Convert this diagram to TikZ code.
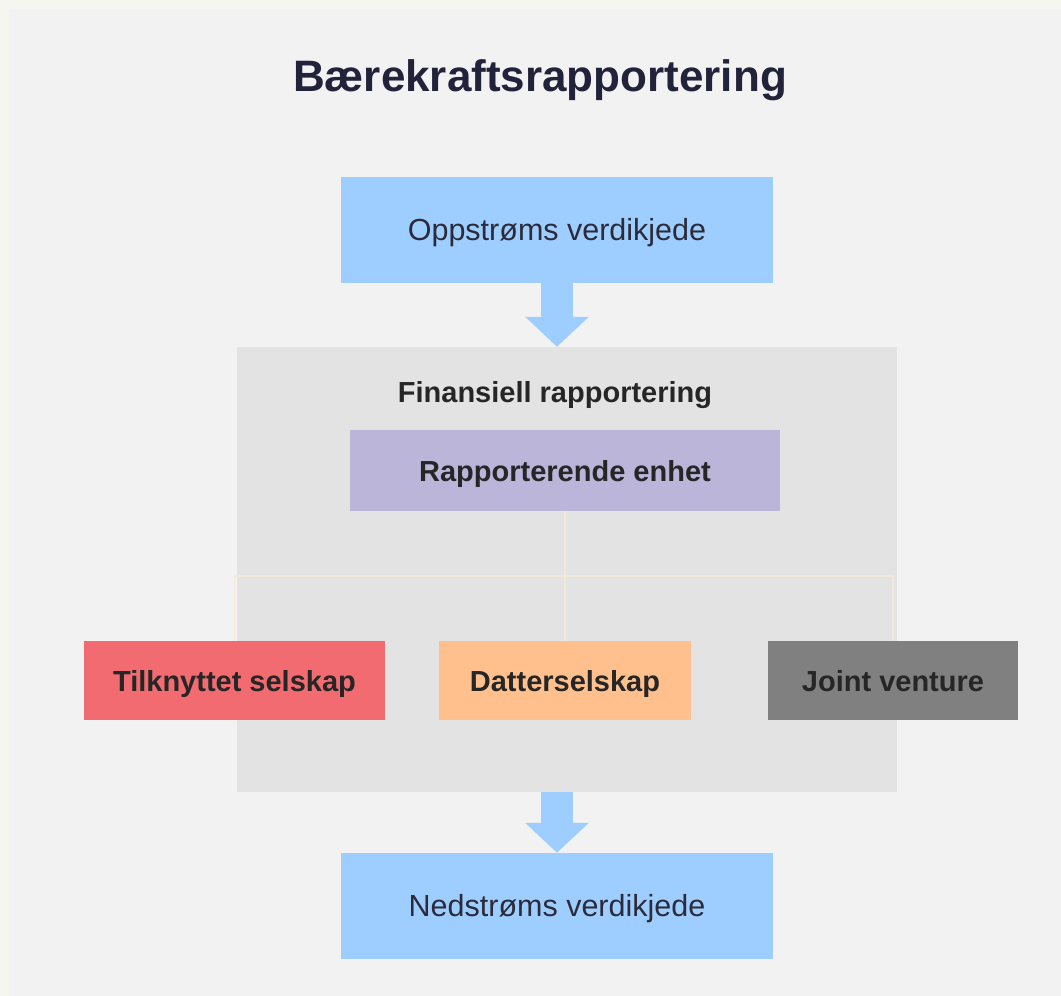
\documentclass[tikz,border=0pt]{standalone}
\usepackage{fontspec}
\setmainfont{Liberation Sans}
\usetikzlibrary{arrows.meta}

\definecolor{cream}{HTML}{F6F6F0}
\definecolor{panelbg}{HTML}{F2F2F2}
\definecolor{groupbg}{HTML}{E3E3E3}
\definecolor{chainblue}{HTML}{9ECEFF}
\definecolor{unitpurple}{HTML}{BBB5D9}
\definecolor{assocred}{HTML}{F26B70}
\definecolor{subpeach}{HTML}{FFC08D}
\definecolor{jvgray}{HTML}{808080}
\definecolor{treeline}{HTML}{F2E8DA}
\definecolor{titleink}{HTML}{22223A}
\definecolor{textink}{HTML}{2B2B3B}

\begin{document}
\begin{tikzpicture}
    [
        x=1pt, y=-1pt,
        every node/.style={font=\fontsize{30.5}{36}\selectfont, text=textink, inner sep=0pt,
            text height=21.5pt, text depth=0pt},
        chain/.style={fill=chainblue, minimum width=432pt, minimum height=106pt},
        entity/.style={minimum height=79pt, font=\fontsize{29}{34}\selectfont\bfseries, text=black!85,
            text height=21pt},
        tree/.style={draw=treeline, line width=1.6pt},
        flow/.style={draw=chainblue, line width=32pt,
            -{Triangle[width=62pt,length=30pt]}},
    ]

    % background
    \useasboundingbox (0,0) rectangle (1061,996);
    \fill[cream] (0,0) rectangle (1061,996);
    \fill[panelbg] (9,9) rectangle (1061,996);

    % title
    \node (title) at (540,76) [font=\fontsize{44}{50}\selectfont\bfseries, text=titleink, text height=31.5pt]
        {Bærekraftsrapportering};

    % value chain
    \node (up)   at (557,230) [chain] {Oppstrøms verdikjede};
    \node (down) at (557,906) [chain] {Nedstrøms verdikjede};

    % financial reporting group
    \node (panel) at (567,569.5) [fill=groupbg, minimum width=660pt, minimum height=445pt] {};
    \node (fin)  at (555,391.5) [entity, minimum height=0pt] {Finansiell rapportering};
    \node (unit) at (565,470.5) [entity, fill=unitpurple, minimum width=430pt, minimum height=81pt]
        {Rapporterende enhet};

    \node (assoc)  at (234.5,680.5) [entity, fill=assocred, minimum width=301pt] {Tilknyttet selskap};
    \node (subsid) at (565,680.5)   [entity, fill=subpeach, minimum width=252pt] {Datterselskap};
    \node (jv)     at (893,680.5)   [entity, fill=jvgray, minimum width=250pt] {Joint venture};

    \coordinate (bus) at (565,576);

    \path[tree]
    (unit.south) edge (subsid.north)
    (assoc.north) edge [to path={|- (bus) -| (\tikztotarget)}] (jv.north);

    \draw[flow] (up.south) -- (panel.north -| up.south);
    \draw[flow] (panel.south -| down.north) -- (down.north);

\end{tikzpicture}
\end{document}
